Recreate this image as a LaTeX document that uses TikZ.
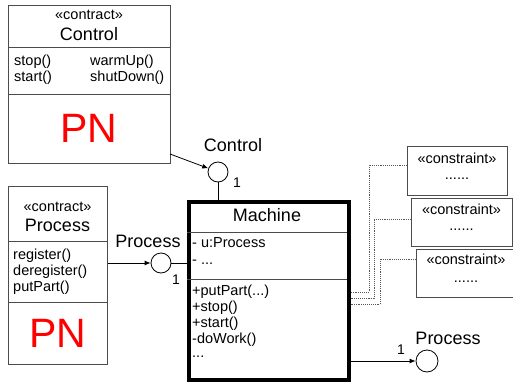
\documentclass[tikz,border=0pt]{standalone}
\usepackage{fontspec}
\setmainfont{Liberation Sans}
\usetikzlibrary{arrows.meta}
\begin{document}
\begin{tikzpicture}[x=1pt,y=-1pt,
  box/.style={draw=black!70, line width=0.9pt, rectangle, inner sep=0pt, anchor=north west},
  sep/.style={draw=black!70, line width=0.9pt},
  title/.style={font=\fontsize{18}{20}\selectfont, inner sep=0pt},
  body/.style={font=\fontsize{14.5}{16}\selectfont, inner sep=0pt, anchor=west},
  ctext/.style={font=\fontsize{14.5}{16}\selectfont, inner sep=0pt},
  pn/.style={font=\fontsize{41}{44}\selectfont, text=red, inner sep=0pt},
  iface/.style={circle, draw=black, line width=0.8pt, minimum size=20pt, inner sep=0pt},
  lbl/.style={font=\fontsize{18}{20}\selectfont, inner sep=0pt},
  mult/.style={font=\fontsize{14}{16}\selectfont, inner sep=0pt},
  conn/.style={draw=black, line width=0.8pt},
  arr/.style={conn, -{Latex[length=6pt,width=5pt]}},
  dotline/.style={draw=black!65, line width=0.9pt, densely dotted}]
\useasboundingbox (0,0) rectangle (513,382);

% contract class: Control
\node[box, minimum width=162pt, minimum height=158pt] (ctrl) at (8,5) {};
\draw[sep] (8,47) -- (170,47);
\draw[sep] (8,94) -- (170,94);
\node[ctext] (ctrlStereo) at (89,15) {«contract»};
\node[title] (ctrlName) at (89,34) {Control};
\node[body] (ctrlOp1) at (14,62) {stop()};
\node[body] (ctrlOp2) at (14,78) {start()};
\node[body] (ctrlOp3) at (90,62) {warmUp()};
\node[body] (ctrlOp4) at (90,78) {shutDown()};
\node[pn] (ctrlPN) at (89,128) {PN};

% contract class: Process
\node[box, minimum width=99pt, minimum height=178pt] (proc) at (8,186) {};
\draw[sep] (8,241) -- (107,241);
\draw[sep] (8,302) -- (107,302);
\node[ctext] (procStereo) at (57.5,207) {«contract»};
\node[title] (procName) at (57.5,225) {Process};
\node[body] (procOp1) at (13,256) {register()};
\node[body] (procOp2) at (13,272) {deregister()};
\node[body] (procOp3) at (13,288) {putPart()};
\node[pn] (procPN) at (57.5,333) {PN};

% component class: Machine
\node[draw=black, line width=3.5pt, rectangle, inner sep=0pt, anchor=north west,
      minimum width=160pt, minimum height=178pt] (mach) at (187,200) {};
\draw[sep] (187,232) -- (347,232);
\draw[sep] (187,279) -- (347,279);
\node[title] (machName) at (267,215) {Machine};
\node[body] (machAt1) at (192,243) {- u:Process};
\node[body] (machAt2) at (192,262) {- ...};
\node[body] (machOp1) at (192,292) {+putPart(...)};
\node[body] (machOp2) at (192,308) {+stop()};
\node[body] (machOp3) at (192,324) {+start()};
\node[body] (machOp4) at (192,340) {-doWork()};
\node[body] (machOp5) at (192,357) {...};

% interfaces
\node[iface] (ctrlIf) at (218,172) {};
\node[iface] (procIf) at (161,263) {};
\node[iface, minimum size=22pt] (procOut) at (427,361) {};
\node[lbl] (ctrlIfName) at (233,145) {Control};
\node[lbl] (procIfName) at (148,241) {Process};
\node[lbl] (procOutName) at (448,338) {Process};
\node[mult] (ctrlMult) at (237,183) {1};
\node[mult] (procMult) at (176,280) {1};
\node[mult] (outMult) at (401,350) {1};

% connectors
\coordinate (ctrlPort) at (170,154);
\draw[arr] (ctrlPort) -- (ctrlIf);
\draw[conn] (ctrlIf) -- (ctrlIf |- mach.north);
\draw[arr] (proc.east |- procIf) -- (procIf);
\draw[conn] (procIf) -- (procIf -| mach.west);
\draw[arr] (mach.east |- procOut) -- (procOut);

% constraints
\node[box, minimum width=100pt, minimum height=49pt] (cons1) at (407,146) {};
\node[box, minimum width=101pt, minimum height=48pt] (cons2) at (411,198) {};
\node[box, minimum width=104pt, minimum height=48pt] (cons3) at (416,249) {};
\node[ctext] (cons1St) at (457,158) {«constraint»};
\node[ctext] (cons1Tx) at (457,179) {......};
\node[ctext] (cons2St) at (461.5,209) {«constraint»};
\node[ctext] (cons2Tx) at (461.5,230) {......};
\node[ctext] (cons3St) at (466,259) {«constraint»};
\node[ctext] (cons3Tx) at (466,282) {......};

\coordinate (cons1In) at (407,165);
\coordinate (cons2In) at (411,219);
\coordinate (cons3In) at (416,259);
\draw[dotline] (cons1In) -- (369,165) -- (369,292) -- (mach.east |- 0,292);
\draw[dotline] (cons2In) -- (374,219) -- (374,298) -- (mach.east |- 0,298);
\draw[dotline] (cons3In) -- (380,259) -- (380,304) -- (mach.east |- 0,304);
\end{tikzpicture}
\end{document}
